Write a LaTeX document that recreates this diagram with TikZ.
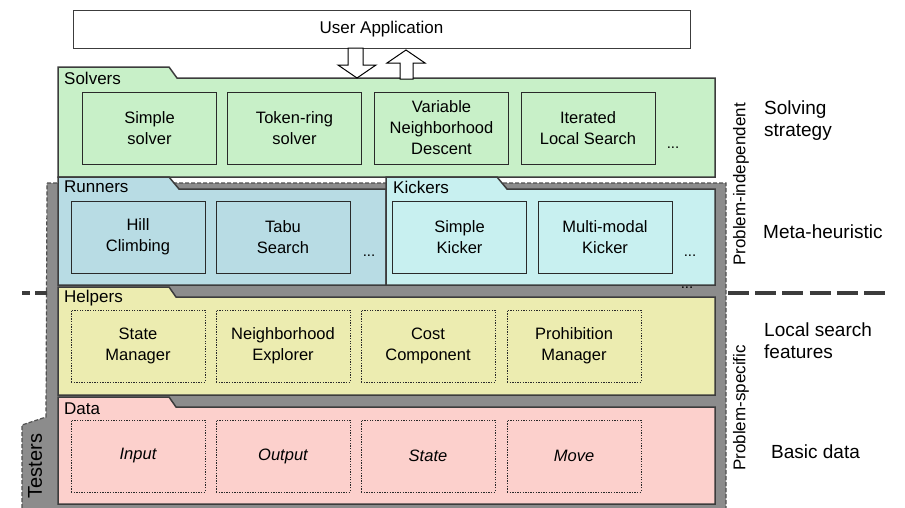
\documentclass[tikz,border=0pt]{standalone}
\usepackage{fontspec}
\setmainfont{Liberation Sans}
\definecolor{bord}{HTML}{3C3C3C}
\definecolor{ibord}{HTML}{2A2A2A}
\definecolor{solverc}{HTML}{C8F0C8}
\definecolor{runnerc}{HTML}{B8DCE4}
\definecolor{kickerc}{HTML}{C8F0F0}
\definecolor{helperc}{HTML}{ECECB0}
\definecolor{datac}{HTML}{FCD0CC}
\definecolor{testc}{HTML}{8C8C8C}
\definecolor{testb}{HTML}{505050}
\begin{document}
\begin{tikzpicture}[x=1pt,y=-1pt,
  folder/.style={draw=bord, line width=1.5pt, line join=miter},
  inbox/.style={draw=ibord, line width=1pt, minimum width=134pt, minimum height=72pt, align=center, font=\fontsize{16.5}{21}\selectfont, inner sep=0pt},
  dotbox/.style={inbox, dash pattern=on 1.3pt off 1.3pt},
  flabel/.style={anchor=west, font=\fontsize{17}{20}\selectfont, inner sep=0pt},
  rlabel/.style={anchor=west, align=left, font=\fontsize{19}{22}\selectfont, inner sep=0pt},
  vlabel/.style={rotate=90, font=\fontsize{17}{20}\selectfont, inner sep=0pt},
  dots/.style={font=\fontsize{15}{18}\selectfont, inner sep=0pt},
  hollow/.style={draw=black, fill=white, line width=1pt, line join=miter}
]
\useasboundingbox (0,0) rectangle (905,507);

% Testers region
\filldraw[fill=testc, draw=testb, line width=1.2pt, dash pattern=on 4pt off 2pt]
  (47,183) -- (726,183) -- (726,512) -- (22,512) -- (22,425) -- (46,417) -- cycle;
\node[rotate=90, font=\fontsize{20}{22}\selectfont, inner sep=0pt] (testers) at (35,466) {Testers};

% separator dashed line
\coordinate (sepL1) at (22,293);
\coordinate (sepL2) at (47,293);
\coordinate (sepR1) at (728,293);
\coordinate (sepR2) at (887,293);
\draw[bord, line width=4pt, dash pattern=on 8pt off 5pt on 12pt off 0pt] (sepL1) -- (sepL2);
\draw[bord, line width=4pt, dash pattern=on 21pt off 6.2pt] (sepR1) -- (sepR2);

% Solvers folder
\filldraw[folder, fill=solverc] (58,67) -- (169,67) -- (177,78) -- (715,78) -- (715,177) -- (58,177) -- cycle;
\node[flabel] (solvers) at (64,78) {Solvers};
\node[inbox, fill=solverc] (s1) at (149.5,128) {Simple\\solver};
\node[inbox, fill=solverc] (s2) at (294.5,128) {Token-ring\\solver};
\node[inbox, fill=solverc] (s3) at (441.5,128) {Variable\\Neighborhood\\Descent};
\node[inbox, fill=solverc] (s4) at (588,128) {Iterated\\Local Search};
\node[dots] (sdots) at (673,148) {...};

% Runners folder
\filldraw[folder, fill=runnerc] (58,177) -- (169,177) -- (179,189) -- (386,189) -- (386,285) -- (58,285) -- cycle;
\node[flabel] (runners) at (64,187) {Runners};
\node[inbox, fill=runnerc] (r1) at (138,237) {Hill\\Climbing};
\node[inbox, fill=runnerc] (r2) at (283,237) {Tabu\\Search};
\node[dots] (rdots) at (369,256) {...};

% Kickers folder
\filldraw[folder, fill=kickerc] (386,177) -- (497,177) -- (507,189) -- (715,189) -- (715,285) -- (386,285) -- cycle;
\node[flabel] (kickers) at (393,187) {Kickers};
\node[inbox, fill=kickerc] (k1) at (459.5,237.5) {Simple\\Kicker};
\node[inbox, fill=kickerc] (k2) at (605,237.5) {Multi-modal\\Kicker};
\node[dots] (kdots) at (690,256) {...};
\node[dots] (gdots) at (687,288) {...};

% Helpers folder
\filldraw[folder, fill=helperc] (58,287) -- (169,287) -- (176,297) -- (715,297) -- (715,395) -- (58,395) -- cycle;
\node[flabel] (helpers) at (64,298) {Helpers};
\node[dotbox, fill=helperc] (h1) at (138,346) {State\\Manager};
\node[dotbox, fill=helperc] (h2) at (283,346) {Neighborhood\\Explorer};
\node[dotbox, fill=helperc] (h3) at (428,346) {Cost\\Component};
\node[dotbox, fill=helperc] (h4) at (574,346) {Prohibition\\Manager};

% Data folder
\filldraw[folder, fill=datac] (58,397) -- (169,397) -- (176,407) -- (715,407) -- (715,504) -- (58,504) -- cycle;
\node[flabel] (data) at (64,409) {Data};
\node[dotbox, fill=datac] (d1) at (138,456) {\itshape Input};
\node[dotbox, fill=datac] (d2) at (283,456) {\itshape Output};
\node[dotbox, fill=datac] (d3) at (428,456) {\itshape State};
\node[dotbox, fill=datac] (d4) at (574,456) {\itshape Move};

% User application and arrows
\node[draw=bord, line width=1pt, minimum width=617pt, minimum height=38pt, inner sep=0pt, font=\fontsize{17}{20}\selectfont] (ua) at (381.5,29) {User Application};
\draw[hollow] (348,48) -- (363,48) -- (363,65) -- (376,65) -- (357,78) -- (338,65) -- (348,65) -- cycle;
\draw[hollow] (400,79) -- (413,79) -- (413,63) -- (425,63) -- (406,50) -- (387,63) -- (400,63) -- cycle;

% side labels
\node[vlabel] (pind) at (741,184.5) {Problem-independent};
\node[vlabel] (pspec) at (741,408) {Problem-specific};
\node[rlabel] (lsolve) at (764,121) {Solving\\strategy};
\node[rlabel] (lmeta) at (763,232) {Meta-heuristic};
\node[rlabel] (llocal) at (764,341) {Local search\\features};
\node[rlabel] (lbasic) at (771,452) {Basic data};
\end{tikzpicture}
\end{document}
